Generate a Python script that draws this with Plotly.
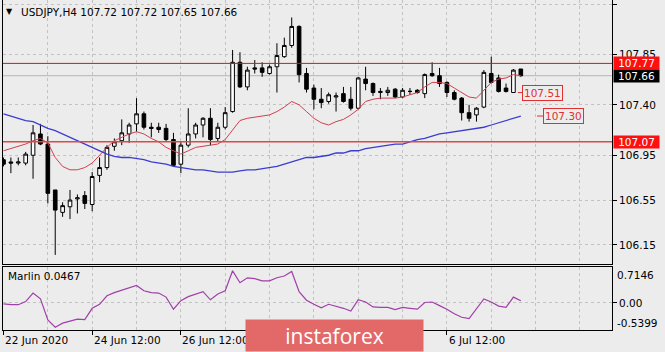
import plotly.graph_objects as go

# ---------------- data ----------------
days = ["22 Jun", "23 Jun", "24 Jun", "25 Jun", "26 Jun", "29 Jun", "30 Jun",
        "1 Jul", "2 Jul", "3 Jul", "6 Jul", "7 Jul", "8 Jul"]
hours = ["00:00", "04:00", "08:00", "12:00", "16:00", "20:00"]
bar_times = [f"{d} {h}" for d in days for h in hours][3:3 + 71]

open_ = [106.91, 106.89, 106.88, 106.88, 106.95, 107.14, 107.05, 106.64, 106.44, 106.49,
         106.56, 106.59, 106.51, 106.77, 106.84, 107.03, 107.08, 107.14, 107.23, 107.32,
         107.20, 107.20, 107.19, 107.09, 106.87, 107.04, 107.14, 107.22, 107.28, 107.10,
         107.20, 107.34, 107.78, 107.56, 107.73, 107.73, 107.68, 107.74, 107.83, 107.93,
         108.10, 107.68, 107.55, 107.45, 107.43, 107.47, 107.50, 107.45, 107.37, 107.63,
         107.59, 107.51, 107.51, 107.54, 107.47, 107.52, 107.53, 107.50, 107.68, 107.66,
         107.60, 107.51, 107.46, 107.33, 107.31, 107.38, 107.68, 107.64, 107.55, 107.51,
         107.72]
high = [106.93, 106.93, 106.93, 106.98, 107.22, 107.23, 107.12, 106.64, 106.53, 106.64,
        106.60, 106.63, 106.80, 106.93, 107.04, 107.10, 107.27, 107.24, 107.46, 107.34,
        107.24, 107.24, 107.23, 107.15, 107.07, 107.37, 107.24, 107.29, 107.37, 107.24,
        107.38, 107.89, 107.87, 107.74, 107.80, 107.78, 107.76, 107.95, 108.00, 108.18,
        108.11, 107.73, 107.58, 107.55, 107.51, 107.51, 107.56, 107.56, 107.65, 107.74,
        107.60, 107.55, 107.56, 107.55, 107.55, 107.55, 107.54, 107.68, 107.78, 107.73,
        107.61, 107.53, 107.47, 107.40, 107.38, 107.71, 107.83, 107.67, 107.59, 107.72,
        107.72]
low = [106.85, 106.79, 106.86, 106.86, 106.74, 107.04, 106.52, 106.06, 106.40, 106.38,
       106.43, 106.47, 106.45, 106.71, 106.82, 106.99, 107.04, 107.06, 107.16, 107.18,
       107.11, 107.15, 107.07, 106.85, 106.79, 107.02, 107.10, 107.11, 107.04, 107.07,
       107.18, 107.33, 107.55, 107.53, 107.68, 107.65, 107.67, 107.51, 107.82, 107.91,
       107.60, 107.51, 107.36, 107.37, 107.41, 107.34, 107.42, 107.35, 107.36, 107.53,
       107.48, 107.45, 107.48, 107.46, 107.46, 107.49, 107.50, 107.46, 107.65, 107.56,
       107.47, 107.44, 107.26, 107.25, 107.25, 107.37, 107.59, 107.51, 107.51, 107.51,
       107.65]
close = [106.87, 106.88, 106.89, 106.96, 107.15, 107.05, 106.61, 106.46, 106.50, 106.55,
         106.57, 106.52, 106.76, 106.84, 107.02, 107.07, 107.15, 107.22, 107.32, 107.20,
         107.19, 107.18, 107.09, 106.86, 107.04, 107.14, 107.22, 107.28, 107.09, 107.20,
         107.33, 107.78, 107.56, 107.71, 107.72, 107.69, 107.74, 107.84, 107.93, 108.10,
         107.67, 107.54, 107.45, 107.42, 107.49, 107.48, 107.43, 107.37, 107.64, 107.59,
         107.51, 107.52, 107.53, 107.47, 107.53, 107.52, 107.51, 107.67, 107.66, 107.59,
         107.51, 107.45, 107.33, 107.28, 107.37, 107.69, 107.60, 107.52, 107.52, 107.71,
         107.66]
ma_fast = [106.99, 107.01, 107.03, 107.05, 107.08, 107.10, 107.06, 106.93, 106.85, 106.82,
           106.82, 106.84, 106.88, 106.95, 107.02, 107.08, 107.11, 107.14, 107.16, 107.14,
           107.10, 107.07, 107.02, 106.99, 106.96, 106.99, 107.02, 107.03, 107.04, 107.05,
           107.09, 107.18, 107.26, 107.28, 107.29, 107.30, 107.31, 107.34, 107.38, 107.43,
           107.40, 107.34, 107.28, 107.24, 107.22, 107.25, 107.27, 107.31, 107.36, 107.43,
           107.45, 107.46, 107.46, 107.46, 107.47, 107.49, 107.51, 107.56, 107.60, 107.60,
           107.59, 107.55, 107.51, 107.47, 107.46, 107.53, 107.60, 107.63, 107.64, 107.67,
           107.66]
ma_slow = [107.32, 107.30, 107.28, 107.26, 107.25, 107.22, 107.19, 107.17, 107.14, 107.11,
           107.08, 107.05, 107.02, 106.99, 106.96, 106.94, 106.93, 106.93, 106.92, 106.91,
           106.89, 106.88, 106.87, 106.85, 106.84, 106.83, 106.82, 106.82, 106.81, 106.80,
           106.80, 106.80, 106.81, 106.82, 106.82, 106.83, 106.84, 106.85, 106.87, 106.89,
           106.91, 106.93, 106.93, 106.94, 106.95, 106.97, 106.97, 106.99, 106.99, 107.01,
           107.02, 107.03, 107.04, 107.05, 107.05, 107.07, 107.09, 107.10, 107.12, 107.14,
           107.15, 107.16, 107.17, 107.18, 107.19, 107.20, 107.22, 107.24, 107.26, 107.28,
           107.30]
marlin = [-0.02, -0.04, -0.04, 0.03, 0.22, 0.09, -0.38, -0.54, -0.45, -0.41,
          -0.36, -0.37, -0.12, -0.03, 0.16, 0.23, 0.28, 0.33, 0.39, 0.27,
          0.23, 0.22, 0.13, -0.14, 0.05, 0.14, 0.20, 0.25, 0.07, 0.20,
          0.27, 0.7146, 0.45, 0.56, 0.54, 0.49, 0.49, 0.56, 0.60, 0.70,
          0.25, 0.06, -0.03, -0.11, -0.03, -0.07, -0.12, -0.18, 0.07, 0.02,
          -0.09, -0.10, -0.10, -0.15, -0.10, -0.12, -0.14, 0.01, 0.02, -0.06,
          -0.14, -0.24, -0.32, -0.35, -0.12, 0.09, 0.02, -0.07, -0.10, 0.13,
          0.0467]

price_ticks = [108.30, 107.85, 107.40, 106.95, 106.55, 106.15]
level_high = 107.77
level_low = 107.07
bid = 107.66
label_fast = 107.51
label_slow = 107.30
marlin_max = 0.7146
marlin_min = -0.5399
date_tick_idx = [0, 12, 24, 36, 48, 60]
date_label_idx = [0, 12, 24, 60]   # the others are hidden by the logo badge

# ---------------- figure ----------------
idx = list(range(len(close)))
BG = "#ececec"
GRID = "#c2c2c2"
FONT = "DejaVu Sans"
W, H = 665, 352
L, R = 3, 53
PW = W - L - R


def px_x(p):
    return (p - L) / PW


def px_y(p):
    return 1 - p / H


fig = go.Figure()
fig.add_trace(go.Candlestick(
    x=idx, open=open_, high=high, low=low, close=close, text=bar_times,
    increasing=dict(line=dict(color="black", width=1), fillcolor="white"),
    decreasing=dict(line=dict(color="black", width=1), fillcolor="black"),
    whiskerwidth=0, xaxis="x", yaxis="y", hoverinfo="x+y+text"))
fig.add_trace(go.Scatter(x=idx, y=ma_fast, mode="lines",
                         line=dict(color="#d0404e", width=1), xaxis="x", yaxis="y"))
fig.add_trace(go.Scatter(x=idx, y=ma_slow, mode="lines",
                         line=dict(color="#3a3ccf", width=1.3), xaxis="x", yaxis="y"))
fig.add_trace(go.Scatter(x=idx, y=marlin, mode="lines",
                         line=dict(color="#a040a8", width=1.2), xaxis="x2", yaxis="y2"))

xr = [-0.068, 82.34]
common_x = dict(range=xr, showline=True, mirror=True, linecolor="black", linewidth=1,
                zeroline=False, showgrid=True, gridcolor=GRID, griddash="3px,3px",
                tickvals=date_tick_idx, showticklabels=False,
                minor=dict(tick0=0, dtick=6, showgrid=True, gridcolor=GRID,
                           griddash="3px,3px", ticks=""))
fig.update_layout(
    width=W, height=H, margin=dict(l=L, r=R, t=0, b=0),
    paper_bgcolor=BG, plot_bgcolor=BG, showlegend=False,
    font=dict(family=FONT, size=10.5, color="black"),
    xaxis=dict(**common_x, domain=[0, 1], anchor="y", ticks="",
               rangeslider=dict(visible=False)),
    xaxis2=dict(**common_x, domain=[0, 1], anchor="y2", ticks="outside",
                ticklen=4, tickcolor="black"),
    yaxis=dict(domain=[px_y(264), 1], range=[105.979, 108.336], side="right",
               tickvals=price_ticks, ticktext=[f"{v:.2f}" for v in price_ticks],
               ticks="outside", ticklen=4, tickcolor="black",
               showline=True, mirror=True, linecolor="black", zeroline=False,
               showgrid=True, gridcolor=GRID, griddash="3px,3px",
               tickfont=dict(family=FONT, size=10.5, color="black")),
    yaxis2=dict(domain=[px_y(330), px_y(267)], range=[-0.603, 0.80], side="right",
                tickvals=[0], ticktext=["0.00"], ticks="outside", ticklen=4,
                tickcolor="black", showline=True, mirror=True, linecolor="black",
                zeroline=False, showgrid=True, gridcolor=GRID, griddash="3px,3px",
                tickfont=dict(family=FONT, size=10.5, color="black")),
)

shapes = [
    dict(type="line", xref="paper", yref="y", x0=0, x1=1, y0=bid, y1=bid,
         line=dict(color="#b4b4b4", width=1), layer="below"),
    dict(type="line", xref="paper", yref="y", x0=0, x1=1, y0=level_high, y1=level_high,
         line=dict(color="#cc1a1a", width=1)),
    dict(type="line", xref="paper", yref="y", x0=0, x1=1, y0=level_low, y1=level_low,
         line=dict(color="#e04848", width=1.6)),
    dict(type="line", xref="x", yref="y", x0=69.6, x1=70.9, y0=label_fast, y1=label_fast,
         line=dict(color="#e03030", width=1)),
    dict(type="line", xref="x", yref="y", x0=72.2, x1=73.3, y0=label_slow, y1=label_slow,
         line=dict(color="#e03030", width=1)),
]
fig.update_layout(shapes=shapes)

ann = []
ann.append(dict(text="▼", xref="paper", yref="paper", x=px_x(4), y=px_y(12),
                xanchor="left", yanchor="middle", showarrow=False,
                font=dict(family=FONT, size=8, color="black")))
ann.append(dict(text="USDJPY,H4 107.72 107.72 107.65 107.66", xref="paper", yref="paper",
                x=px_x(19), y=px_y(12), xanchor="left", yanchor="middle", showarrow=False,
                font=dict(family=FONT, size=10.5, color="black")))
ann.append(dict(text="Marlin 0.0467", xref="paper", yref="paper", x=px_x(6), y=px_y(276),
                xanchor="left", yanchor="middle", showarrow=False,
                font=dict(family=FONT, size=10.5, color="black")))
for val, col in [(level_high, "#ff1010"), (bid, "#000000"), (level_low, "#ff1010")]:
    ann.append(dict(text=f"{val:.2f}", xref="paper", yref="y", x=px_x(613), y=val,
                    xanchor="left", yanchor="middle", showarrow=False, bgcolor=col,
                    width=45, height=12, borderpad=0, align="center",
                    font=dict(family=FONT, size=10.5, color="white")))
ann.append(dict(text=f"{marlin_max:.4f}", xref="paper", yref="paper", x=px_x(615),
                y=px_y(275), xanchor="left", yanchor="middle", showarrow=False,
                font=dict(family=FONT, size=10.5, color="black")))
ann.append(dict(text=f"{marlin_min:.4f}", xref="paper", yref="paper", x=px_x(615),
                y=px_y(323), xanchor="left", yanchor="middle", showarrow=False,
                font=dict(family=FONT, size=10.5, color="black")))
for val, xc in [(label_fast, 73.0), (label_slow, 75.8)]:
    ann.append(dict(text=f"{val:.2f}", xref="x", yref="y", x=xc, y=val,
                    xanchor="center", yanchor="middle", showarrow=False, bgcolor=BG,
                    bordercolor="#e03030", borderwidth=1, borderpad=1,
                    font=dict(family=FONT, size=10.5, color="#e03030")))
for k in date_label_idx:
    txt = "22 Jun 2020" if k == 0 else bar_times[k]
    ann.append(dict(text=txt, xref="x2", yref="paper", x=k - 0.05, y=px_y(340),
                    xanchor="left", yanchor="middle", showarrow=False,
                    font=dict(family=FONT, size=10.5, color="black")))
# logo badge (drawn last, it covers part of a date label as in the reference)
ann.append(dict(text="instaforex", xref="paper", yref="paper", x=px_x(245), y=0,
                xanchor="left", yanchor="bottom", showarrow=False, bgcolor="#e36868",
                width=177, height=31, borderpad=0, align="center",
                font=dict(family="Open Sans", size=21, color="white")))
fig.update_layout(annotations=ann)

fig.write_html("out.html")
